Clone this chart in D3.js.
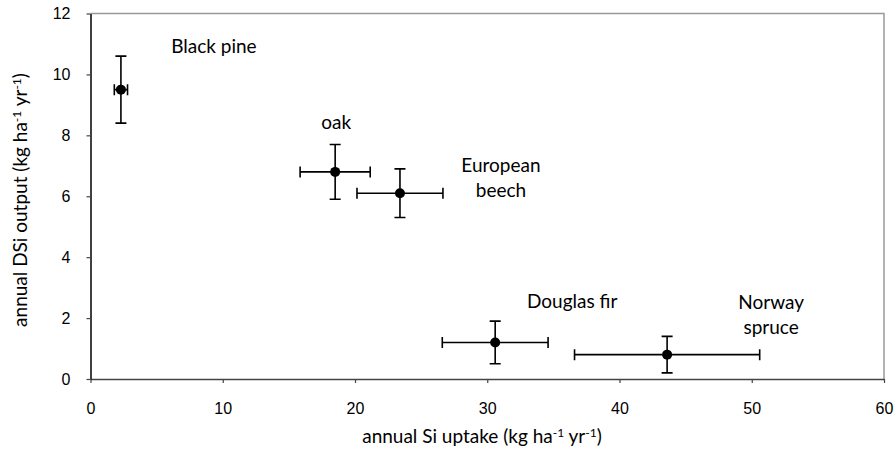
<!DOCTYPE html>
<html>
<head>
<meta charset="utf-8">
<script src="https://cdn.jsdelivr.net/npm/d3@7"></script>
<style>
  html, body { margin: 0; padding: 0; background: #fff; }
  svg { display: block; }
  .tick-label { font-family: "Liberation Sans", Arial, sans-serif; font-size: 16px; fill: #000; }
  .title, .species { font-family: Lato, "Open Sans", sans-serif; font-size: 19px; fill: #000; }
</style>
</head>
<body>
<svg id="chart" width="896" height="470"></svg>
<script>
// Species and their silicon fluxes (mean ± error)
const species = [["Black pine"], ["oak"], ["European", "beech"], ["Douglas fir"], ["Norway", "spruce"]];
const siUptake = [2.3, 18.5, 23.4, 30.6, 43.6];
const siUptakeErr = [0.5, 2.65, 3.25, 4.0, 7.0];
const dsiOutput = [9.5, 6.8, 6.1, 1.2, 0.8];
const dsiOutputErr = [1.1, 0.9, 0.8, 0.7, 0.6];
const xTicks = [0, 10, 20, 30, 40, 50, 60];
const yTicks = [0, 2, 4, 6, 8, 10, 12];

// label placement relative to each point, in pixels
const labelOffset = [[93, -37], [1, -43], [101, -21], [77, -34], [104, -46]];

const svg = d3.select("#chart");
const plot = { left: 90.5, right: 884, top: 13.5, bottom: 379 };

const x = d3.scaleLinear().domain([0, 60]).range([plot.left, plot.right]);
const y = d3.scaleLinear().domain([0, 12]).range([plot.bottom, plot.top]);

// frame: top and right edges in grey
svg.append("path")
  .attr("d", `M${plot.left},${plot.top}H${plot.right}V${plot.bottom}`)
  .attr("fill", "none").attr("stroke", "#999").attr("stroke-width", 1.5);

// x axis
const xAxis = svg.append("g").attr("transform", `translate(0,${plot.bottom})`)
  .call(d3.axisBottom(x).tickValues(xTicks).tickSize(4).tickSizeOuter(0).tickPadding(20));
xAxis.select(".domain").attr("stroke", "#444").attr("stroke-width", 1.5);
xAxis.selectAll(".tick line").attr("stroke", "#444").attr("stroke-width", 1.2);
xAxis.selectAll(".tick text").attr("class", "tick-label");
xAxis.attr("font-family", null).attr("font-size", null);

// y axis
const yAxis = svg.append("g").attr("transform", `translate(${plot.left},0)`)
  .call(d3.axisLeft(y).tickValues(yTicks).tickSize(4).tickSizeOuter(0).tickPadding(16));
yAxis.select(".domain").attr("stroke", "#000").attr("stroke-width", 1.5);
yAxis.selectAll(".tick line").attr("stroke", "#444").attr("stroke-width", 1.2);
yAxis.selectAll(".tick text").attr("class", "tick-label");
yAxis.attr("font-family", null).attr("font-size", null);

// axis titles with superscript exponents
function titleWith(sel, parts) {
  parts.forEach(p => {
    const t = sel.append("tspan").text(p.t);
    if (p.sup) t.attr("font-size", "12px").attr("baseline-shift", "6px");
  });
}
const xTitle = svg.append("text").attr("class", "title")
  .attr("x", 482).attr("y", 443).attr("text-anchor", "middle");
titleWith(xTitle, [{t: "annual Si uptake (kg ha"}, {t: "-1", sup: true}, {t: " yr"}, {t: "-1", sup: true}, {t: ")"}]);

const yTitle = svg.append("text").attr("class", "title")
  .attr("transform", "translate(27,200) rotate(-90)").attr("text-anchor", "middle");
titleWith(yTitle, [{t: "annual DSi output (kg ha"}, {t: "-1", sup: true}, {t: " yr"}, {t: "-1", sup: true}, {t: ")"}]);

// error bars and points
const data = species.map((s, i) => ({
  name: s, x: siUptake[i], xe: siUptakeErr[i], y: dsiOutput[i], ye: dsiOutputErr[i], off: labelOffset[i]
}));
const cap = 5.5;
const g = svg.append("g").attr("stroke", "#000").attr("stroke-width", 1.6).attr("fill", "none");
data.forEach(d => {
  const cx = x(d.x), cy = y(d.y);
  const x0 = x(d.x - d.xe), x1 = x(d.x + d.xe);
  const y0 = y(d.y - d.ye), y1 = y(d.y + d.ye);
  g.append("path").attr("d",
    `M${x0},${cy}H${x1}M${x0},${cy - cap}V${cy + cap}M${x1},${cy - cap}V${cy + cap}` +
    `M${cx},${y0}V${y1}M${cx - cap},${y0}H${cx + cap}M${cx - cap},${y1}H${cx + cap}`);
});
svg.append("g").selectAll("circle").data(data).join("circle")
  .attr("cx", d => x(d.x)).attr("cy", d => y(d.y)).attr("r", 5).attr("fill", "#000");

// species labels
const labels = svg.append("g").selectAll("text").data(data).join("text")
  .attr("class", "species").attr("text-anchor", "middle")
  .attr("x", d => x(d.x) + d.off[0]).attr("y", d => y(d.y) + d.off[1]);
labels.each(function(d) {
  const t = d3.select(this);
  d.name.forEach((line, k) => {
    t.append("tspan").attr("x", x(d.x) + d.off[0]).attr("dy", k === 0 ? 0 : 25).text(line);
  });
});
</script>
</body>
</html>
